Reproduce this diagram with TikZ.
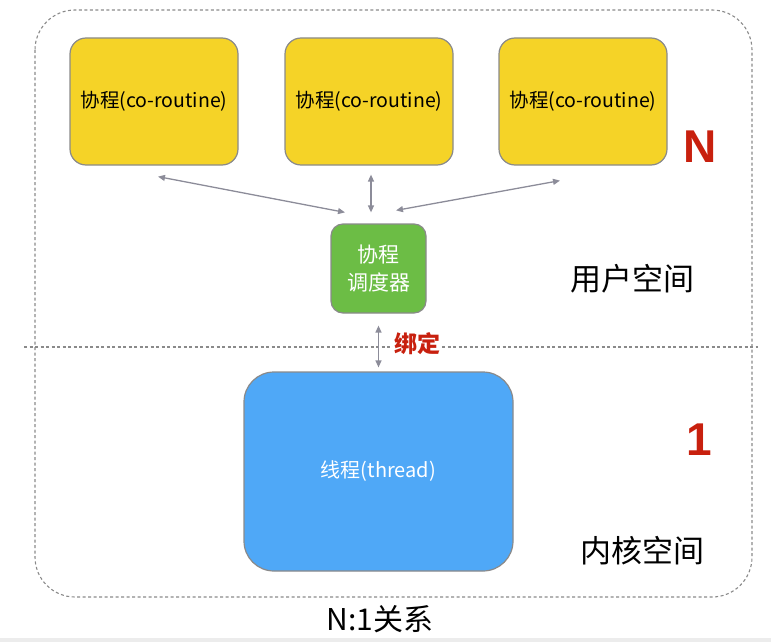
\documentclass[tikz,border=0pt]{standalone}
\usepackage{fontspec}
\setmainfont{Noto Sans CJK SC}
\newfontfamily\numfont{Liberation Sans}
\usetikzlibrary{arrows.meta}
\definecolor{coyellow}{HTML}{F5D327}
\definecolor{schedgreen}{HTML}{6CBD45}
\definecolor{threadblue}{HTML}{4FA8F7}
\definecolor{boxgray}{HTML}{8A8A8A}
\definecolor{linkgray}{HTML}{8C8C99}
\definecolor{markred}{HTML}{C8200E}
\tikzset{
  cobox/.style={draw=boxgray, line width=1.2pt, fill=coyellow, rounded corners=16pt,
    minimum width=168pt, minimum height=127pt, font=\fontsize{19.5}{22}\selectfont},
  link/.style={{Triangle[length=7pt,width=6pt]}-{Triangle[length=7pt,width=6pt]},
    draw=linkgray, line width=1.3pt},
  zone/.style={draw=boxgray, dashed, dash pattern=on 3pt off 2.5pt, line width=1.1pt},
  count/.style={text=markred, font=\numfont\bfseries\fontsize{46}{46}\selectfont},
  space/.style={font=\fontsize{31}{33}\selectfont}
}
\begin{document}
\begin{tikzpicture}[x=1pt,y=-1pt]
    \useasboundingbox (0,0) rectangle (771,642);
    \fill[gray!15] (0,638) rectangle (771,642);
    \draw[zone, rounded corners=40pt] (35,10) rectangle (752,597);
    \draw[zone] (24,347) -- (758,347);
    \foreach \x/\name in {154/co1,369/co2,583/co3}
      \node[cobox] (\name) at (\x,101.5) {协程(co-routine)};
    \node[draw=boxgray, line width=1.2pt, fill=schedgreen, rounded corners=12pt,
      minimum width=95pt, minimum height=89pt, text=white, align=center,
      font=\fontsize{21}{28}\selectfont] (sched) at (378.5,268.5) {协程\\调度器};
    \node[draw=boxgray, line width=1.2pt, fill=threadblue, rounded corners=30pt,
      minimum width=269pt, minimum height=199pt, text=white,
      font=\fontsize{20}{22}\selectfont] (thread) at (378.5,471.5) {线程(thread)};
    \draw[link] ([shift={(4,11)}]co1.south) -- ([shift={(-33.5,-11)}]sched.north);
    \draw[link] ([shift={(2,9)}]co2.south) -- ([shift={(-7.5,-11)}]sched.north);
    \draw[link] ([shift={(-23,15)}]co3.south) -- ([shift={(17.5,-13)}]sched.north);
    \draw[link] ([shift={(0,12)}]sched.south) -- ([shift={(0,-4)}]thread.north);
    \node[fill=white, inner sep=1pt, text=markred, font=\bfseries\fontsize{23}{24}\selectfont] (bind) at (417,344) {绑定};
    \node[count] (many) at (700,147) {N};
    \node[count] (one) at (699,440) {1};
    \node[space] (user) at (632,279) {用户空间};
    \node[space] (kernel) at (642,551) {内核空间};
    \node[font=\fontsize{30}{32}\selectfont] (title) at (380,619) {N:1关系};
\end{tikzpicture}
\end{document}
